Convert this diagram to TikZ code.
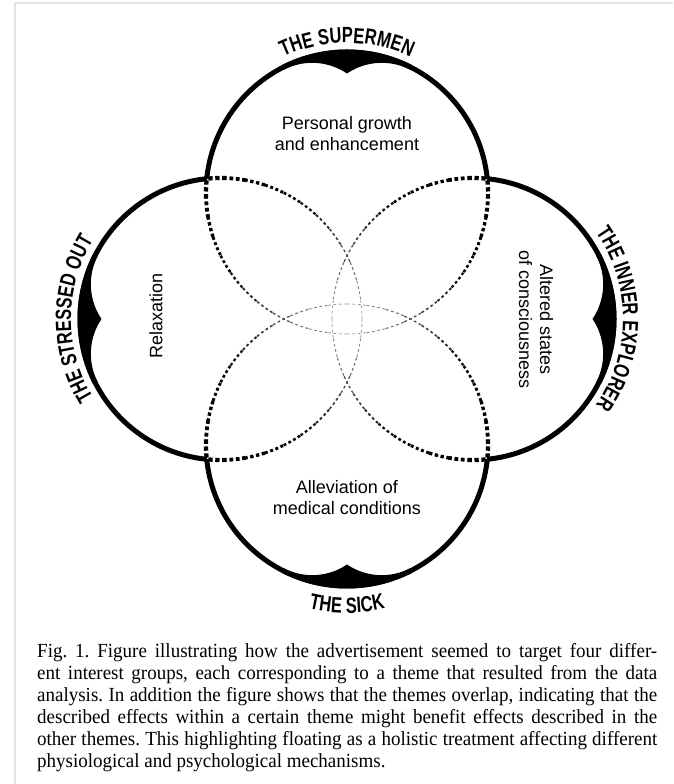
\documentclass[tikz,border=0pt]{standalone}
\usepackage{fontspec}
\setmainfont{Liberation Serif}
\setsansfont{Liberation Sans}
\newfontfamily\themefont[FakeStretch=0.75]{Liberation Sans}
\newfontfamily\capfont[FakeStretch=0.95]{Liberation Serif}
\usepackage{xcolor}
\usepackage{tikz}
\usetikzlibrary{decorations.text}
\newcommand\themelabel{\themefont\bfseries\fontsize{22}{22}\selectfont}
\tolerance=9999

\begin{document}
\begin{tikzpicture}[x=1pt, y=1pt,
    outline/.style={line width=5pt},
    effect/.style={font=\sffamily\fontsize{18}{21}\selectfont, align=center, inner sep=0pt},
    theme/.style={decorate, decoration={text along path, text align=center, text={|\themelabel|#1}}},
    caption/.style={font=\capfont\fontsize{20}{22}\selectfont, text width=620pt, align=justify, inner sep=0pt}
  ]
  \useasboundingbox (0,0) rectangle (673,784);
  % page frame
  \draw[gray!22, line width=2.5pt] (673,781) -- (15,781) -- (15,0);

  % four overlapping circles, one per theme
  \foreach \rot in {0,90,180,270}{
    \begin{scope}[shift={(347,465)}, rotate=\rot, yshift=126pt]
      % inner part, dotted, fading towards the middle
      \foreach \side in {-1,1}{
        \foreach \k in {0,...,11}{
          \pgfmathsetmacro\angA{270+\side*95.8*\k/12}
          \pgfmathsetmacro\angB{270+\side*95.8*(\k+1)/12}
          \pgfmathsetlengthmacro\segw{(0.8+3.7*((\k+0.5)/12)^1.6)*1pt}
          \pgfmathsetlengthmacro\segon{max(\segw,2.8pt)}
          \pgfmathtruncatemacro\segtone{min(100,35+110*(\k+0.5)/12)}
          \draw[line width=\segw, black!\segtone, dash pattern=on \segon off 2.6pt]
            (\angA:141) arc[start angle=\angA, end angle=\angB, radius=141];
        }
      }
      % outer rim
      \draw[outline] (5.8:141) arc[start angle=5.8, end angle=174.2, radius=141];
      % thick bump in the middle of the rim
      \fill (63:143.5) arc[start angle=63, end angle=117, radius=143.5]
        -- plot[domain=27:-27, samples=55] ({90+\x}:{138.5-19*(1-abs(\x)/27)^2}) -- cycle;
    \end{scope}
  }

  % theme names along the rims
  \begin{scope}[shift={(347,465)}, yshift=126pt]
    \path[theme=THE SUPERMEN] (135:150) arc[start angle=135, end angle=45, radius=150];
  \end{scope}
  \begin{scope}[shift={(347,465)}, rotate=90, yshift=126pt]
    \path[theme=THE STRESSED OUT] (135:150) arc[start angle=135, end angle=45, radius=150];
  \end{scope}
  \begin{scope}[shift={(347,465)}, rotate=270, yshift=126pt]
    \path[theme=THE INNER EXPLORER] (135:150) arc[start angle=135, end angle=45, radius=150];
  \end{scope}
  \begin{scope}[shift={(347,465)}, yshift=-126pt]
    \path[theme=THE SICK] (235:168) arc[start angle=235, end angle=305, radius=168];
  \end{scope}

  % effects inside the circles
  \node[effect] (growth) at (347,650) {Personal growth\\and enhancement};
  \node[effect, rotate=90] (relax) at (156,468) {Relaxation};
  \node[effect, rotate=-90] (altered) at (536,464) {Altered states\\of consciousness};
  \node[effect] (medical) at (347,286) {Alleviation of\\medical conditions};

  % caption
  \node[caption, anchor=north west] (caption) at (37,141) {\frenchspacing Fig. 1. Figure illustrating how the advertisement seemed to target four differ-\linebreak
    ent interest groups, each corresponding to a theme that resulted from the data\linebreak
    analysis. In addition the figure shows that the themes overlap, indicating that the\linebreak
    described effects within a certain theme might benefit effects described in the\linebreak
    other themes. This highlighting floating as a holistic treatment affecting different\linebreak
    physiological and psychological mechanisms.};
\end{tikzpicture}
\end{document}
